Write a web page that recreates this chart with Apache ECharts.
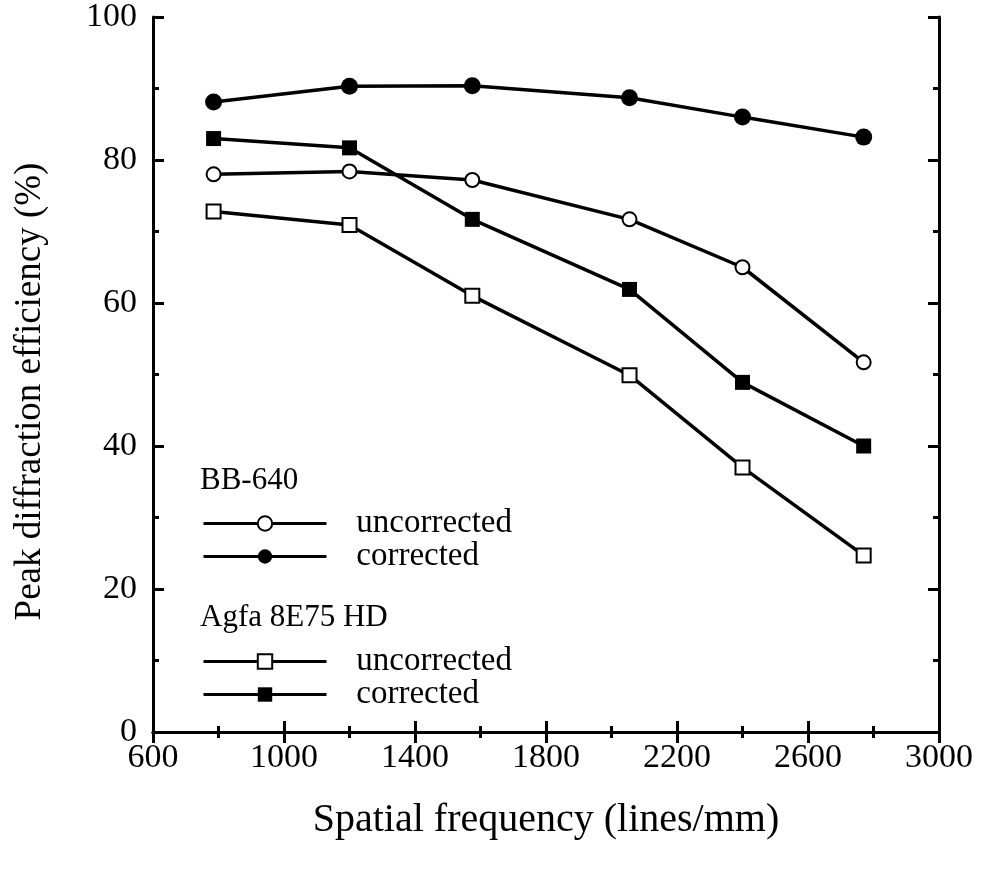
<!DOCTYPE html>
<html>
<head>
<meta charset="utf-8">
<script src="https://cdn.jsdelivr.net/npm/echarts@6/dist/echarts.min.js"></script>
<style>
html,body{margin:0;padding:0;background:#fff;}
#chart{width:989px;height:872px;}
</style>
</head>
<body>
<div id="chart"></div>
<script>
// Data
var freq = [785, 1200, 1575, 2055, 2400, 2770];
var bbUncorrected = [78.0, 78.4, 77.2, 71.7, 65.0, 51.7];
var bbCorrected = [88.1, 90.3, 90.4, 88.7, 86.0, 83.2];
var agfaUncorrected = [72.8, 70.9, 61.0, 49.9, 37.0, 24.7];
var agfaCorrected = [83.0, 81.7, 71.7, 61.9, 48.9, 40.0];

var xTicks = {min: 600, max: 3000, interval: 400};
var yTicks = {min: 0, max: 100, interval: 20};

function pairs(xs, ys) { return xs.map(function (x, i) { return [x, ys[i]]; }); }

var FONT = 'Liberation Serif';
var chart = echarts.init(document.getElementById('chart'), null, {renderer: 'canvas'});

function axisCommon(showLabels) {
  return {
    axisLine: {show: true, lineStyle: {color: '#000', width: 3}},
    axisTick: {show: true, inside: true, length: 11, lineStyle: {color: '#000', width: 3}},
    minorTick: {show: true, splitNumber: 2, length: 6, lineStyle: {color: '#000', width: 3}},
    splitLine: {show: false},
    minorSplitLine: {show: false},
    axisLabel: {show: showLabels, color: '#000', fontFamily: FONT, fontSize: 34,
      formatter: function (v) { return String(v); }}
  };
}

var xBottom = Object.assign(axisCommon(true), {
  type: 'value', position: 'bottom', min: xTicks.min, max: xTicks.max, interval: xTicks.interval,
  name: 'Spatial frequency (lines/mm)', nameLocation: 'middle', nameGap: 68,
  nameTextStyle: {color: '#000', fontFamily: FONT, fontSize: 40}
});
xBottom.axisLabel.margin = 9;
var xTop = Object.assign(axisCommon(false), {
  type: 'value', position: 'top', min: xTicks.min, max: xTicks.max, interval: xTicks.interval
});
var yLeft = Object.assign(axisCommon(true), {
  type: 'value', position: 'left', min: yTicks.min, max: yTicks.max, interval: yTicks.interval,
  name: 'Peak diffraction efficiency (%)', nameLocation: 'middle', nameGap: 104,
  nameTextStyle: {color: '#000', fontFamily: FONT, fontSize: 37, padding: [0, 34, 0, 0]}
});
yLeft.axisLabel.margin = 16;
var yRight = Object.assign(axisCommon(false), {
  type: 'value', position: 'right', min: yTicks.min, max: yTicks.max, interval: yTicks.interval
});

var lineStyle = {color: '#000', width: 3.5};
function mkSeries(name, data, symbol, size, empty) {
  return {
    name: name, type: 'line', xAxisIndex: 0, yAxisIndex: 0,
    data: pairs(freq, data),
    symbol: symbol, symbolSize: size, showAllSymbol: true,
    lineStyle: lineStyle,
    itemStyle: empty ? {color: '#000', borderColor: '#000', borderWidth: 3} : {color: '#000'},
    emphasis: {disabled: true},
    animation: false
  };
}

var legendCommon = {
  orient: 'vertical', left: 197, itemWidth: 123, itemHeight: 18, itemGap: 0,
  textStyle: {color: '#000', fontFamily: FONT, fontSize: 33, lineHeight: 31},
  formatter: function (n) { return '   ' + n.split(' ').pop(); },
  lineStyle: {width: 3},
  selectedMode: false
};

chart.setOption({
  backgroundColor: '#fff',
  animation: false,
  grid: {left: 153, top: 15, width: 786, height: 717, containLabel: false},
  xAxis: [xBottom, xTop],
  yAxis: [yLeft, yRight],
  legend: [
    Object.assign({}, legendCommon, {top: 502, data: ['BB-640 uncorrected', 'BB-640 corrected']}),
    Object.assign({}, legendCommon, {top: 640, data: ['Agfa uncorrected', 'Agfa corrected']})
  ],
  graphic: [
    {type: 'text', left: 200, top: 465, style: {text: 'BB-640', fill: '#000', font: '31px "' + FONT + '"'}},
    {type: 'text', left: 200, top: 602, style: {text: 'Agfa 8E75 HD', fill: '#000', font: '31px "' + FONT + '"'}}
  ],
  series: [
    mkSeries('BB-640 corrected', bbCorrected, 'circle', 17, false),
    mkSeries('BB-640 uncorrected', bbUncorrected, 'emptyCircle', 14, true),
    mkSeries('Agfa corrected', agfaCorrected, 'rect', 15, false),
    mkSeries('Agfa uncorrected', agfaUncorrected, 'emptyRect', 14, true)
  ]
});
</script>
</body>
</html>
